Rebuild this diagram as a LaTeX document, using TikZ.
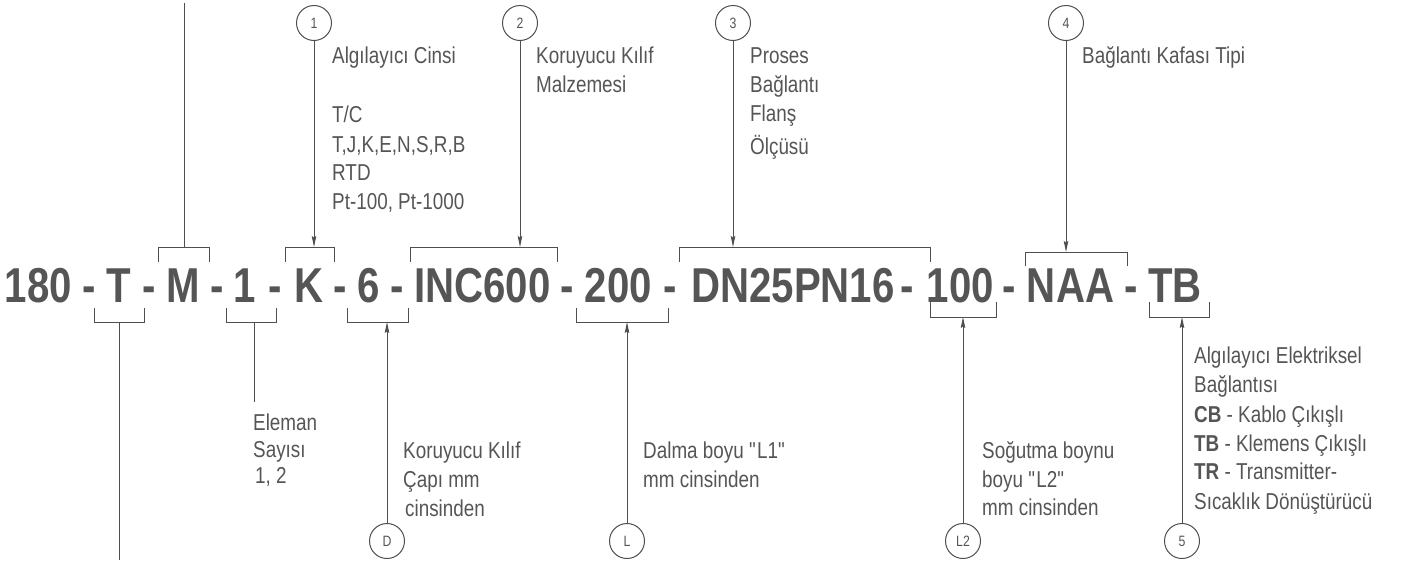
\documentclass[tikz,border=0pt]{standalone}
\usepackage{fontspec}
\setmainfont{Liberation Sans}[FakeStretch=0.82]
\usetikzlibrary{arrows.meta}
\definecolor{ink}{HTML}{555555}
\definecolor{ln}{HTML}{4F4F4F}
\begin{document}
\begin{tikzpicture}[x=1pt,y=-1pt,
  code/.style={font=\fontsize{49}{55}\selectfont\bfseries, text=ink, inner sep=0, anchor=base},
  lbl/.style={font=\fontsize{23}{29}\selectfont, text=ink, inner sep=0, anchor=base west},
  bub/.style={circle, draw=ln, line width=1pt, minimum size=35pt, inner sep=0, font=\fontsize{15}{17}\selectfont, text=ink},
  brk/.style={draw=ln, line width=1pt},
  arr/.style={draw=ln, line width=1pt, -{Stealth[length=11pt,width=4.5pt,inset=1.5pt]}},
  lead/.style={draw=ln, line width=1pt}]
\useasboundingbox (0,0) rectangle (1407,560);

% main code
\node[code] (s180) at (38.5,302) {180};
\node[code] (h1) at (89,302) {-};
\node[code] (sT) at (119,302) {T};
\node[code] (h2) at (149,302) {-};
\node[code] (sM) at (183.5,302) {M};
\node[code] (h3) at (217.5,302) {-};
\node[code] (s1) at (245,302) {1};
\node[code] (h4) at (275,302) {-};
\node[code] (sK) at (309,302) {K};
\node[code] (h5) at (340,302) {-};
\node[code] (s6) at (368.5,302) {6};
\node[code] (h6) at (397.5,302) {-};
\node[code] (sINC) at (482.5,302) {INC600};
\node[code] (h7) at (567.5,302) {-};
\node[code] (s200) at (618.5,302) {200};
\node[code] (h8) at (670.5,302) {-};
\node[code] (sDN) at (793,302) {DN25PN16};
\node[code] (h9) at (907.5,302) {-};
\node[code] (s100) at (960.5,302) {100};
\node[code] (h10) at (1009,302) {-};
\node[code] (sNAA) at (1070.5,302) {NAA};
\node[code] (h11) at (1131,302) {-};
\node[code] (sTB) at (1175,302) {TB};

% top brackets
\draw[brk] (158,262) -- (158,247) -- (209,247) -- (209,262);
\draw[brk] (285,262) -- (285,247) -- (334,247) -- (334,262);
\draw[brk] (410,262) -- (410,247) -- (557,247) -- (557,262);
\draw[brk] (679,262) -- (679,247) -- (930,247) -- (930,262);
\draw[brk] (1025,266) -- (1025,252) -- (1127,252) -- (1127,266);
% bottom brackets
\draw[brk] (94,308) -- (94,322) -- (144,322) -- (144,308);
\draw[brk] (226,308) -- (226,322) -- (276,322) -- (276,308);
\draw[brk] (347,308) -- (347,322) -- (408,322) -- (408,308);
\draw[brk] (576,308) -- (576,322) -- (668,322) -- (668,308);
\draw[brk] (930,302) -- (930,317) -- (996,317) -- (996,302);
\draw[brk] (1149,302) -- (1149,317) -- (1209,317) -- (1209,302);

% attach coordinates
\coordinate (mT) at (184,247);
\coordinate (kT) at (314,247);
\coordinate (iT) at (520,247);
\coordinate (dT) at (733,247);
\coordinate (nT) at (1066,252);
\coordinate (tB) at (119,322);
\coordinate (oB) at (254,322);
\coordinate (sB) at (387,322);
\coordinate (zB) at (627,322);
\coordinate (hB) at (963,317);
\coordinate (bB) at (1182,317);
\coordinate (mTop) at (184,3);
\coordinate (tBot) at (119,560);
\coordinate (oBot) at (254,402);

% bubbles
\node[bub] (c1) at (314,23) {1};
\node[bub] (c2) at (520,23) {2};
\node[bub] (c3) at (733,23) {3};
\node[bub] (c4) at (1066,23) {4};
\node[bub] (cD) at (387,541) {D};
\node[bub] (cL) at (627,541) {L};
\node[bub] (cL2) at (963,541) {L2};
\node[bub] (c5) at (1182,541) {5};

% connectors
\draw[lead] (mTop) -- (mT);
\draw[lead] (tB) -- (tBot);
\draw[lead] (oB) -- (oBot);
\draw[arr] (c1) -- (kT);
\draw[arr] (c2) -- (iT);
\draw[arr] (c3) -- (dT);
\draw[arr] (c4) -- (nT);
\draw[arr] (cD) -- (sB);
\draw[arr] (cL) -- (zB);
\draw[arr] (cL2) -- (hB);
\draw[arr] (c5) -- (bB);

% top labels
\node[lbl] (l1a) at (332,63) {Algılayıcı Cinsi};
\node[lbl] (l1b) at (332,122) {T/C};
\node[lbl] (l1c) at (332,152) {T,J,K,E,N,S,R,B};
\node[lbl] (l1d) at (332,180) {RTD};
\node[lbl] (l1e) at (332,209) {Pt-100, Pt-1000};
\node[lbl] (l2a) at (536,63) {Koruyucu Kılıf};
\node[lbl] (l2b) at (536,92) {Malzemesi};
\node[lbl] (l3a) at (750,63) {Proses};
\node[lbl] (l3b) at (750,92) {Bağlantı};
\node[lbl] (l3c) at (750,121) {Flanş};
\node[lbl] (l3d) at (750,154) {Ölçüsü};
\node[lbl] (l4a) at (1082,63) {Bağlantı Kafası Tipi};

% bottom labels
\node[lbl] (e1) at (253,430) {Eleman};
\node[lbl] (e2) at (253,457) {Sayısı};
\node[lbl] (e3) at (255,483) {1, 2};
\node[lbl] (d1) at (403,458) {Koruyucu Kılıf};
\node[lbl] (d2) at (403,487) {Çapı mm};
\node[lbl] (d3) at (405,516) {cinsinden};
\node[lbl] (u1) at (643,458) {Dalma boyu \textquotedbl L1\textquotedbl};
\node[lbl] (u2) at (643,487) {mm cinsinden};
\node[lbl] (v1) at (982,458) {Soğutma boynu};
\node[lbl] (v2) at (982,487) {boyu \textquotedbl L2\textquotedbl};
\node[lbl] (v3) at (982,515) {mm cinsinden};
\node[lbl] (t1) at (1194,363) {Algılayıcı Elektriksel};
\node[lbl] (t2) at (1194,392) {Bağlantısı};
\node[lbl] (t3) at (1194,422) {\textbf{CB} - Kablo Çıkışlı};
\node[lbl] (t4) at (1194,451) {\textbf{TB} - Klemens Çıkışlı};
\node[lbl] (t5) at (1194,479) {\textbf{TR} - Transmitter-};
\node[lbl] (t6) at (1194,509) {Sıcaklık Dönüştürücü};
\end{tikzpicture}
\end{document}
